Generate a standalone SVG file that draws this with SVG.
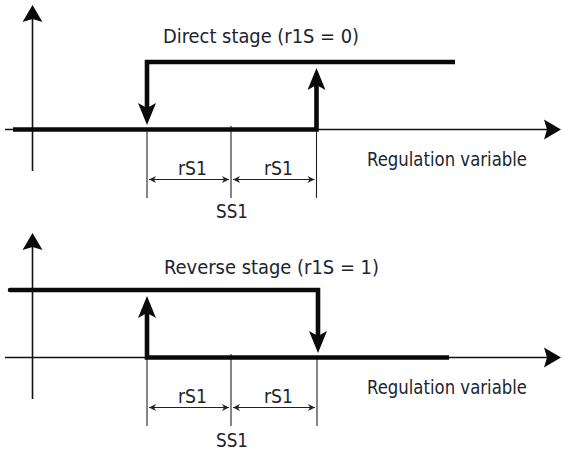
<svg xmlns="http://www.w3.org/2000/svg" width="563" height="453" viewBox="0 0 563 453">
<style>
.bg{fill:#ffffff}
.thin{fill:none;stroke:#111;stroke-width:1.6}
.dim{fill:none;stroke:#222;stroke-width:1.1}
.thick{fill:none;stroke:#0a0a0a;stroke-width:4.6;stroke-linejoin:miter}
.ax{marker-end:url(#axHead)}
.dl{marker-start:url(#dimHead);marker-end:url(#dimHead)}
.th{marker-end:url(#thickHead)}
text{font-family:"DejaVu Sans Condensed","DejaVu Sans","Liberation Sans",sans-serif;font-stretch:condensed;fill:#1b2430;font-size:19px}
.mid{text-anchor:middle}
</style>
<defs>
<marker id="axHead" markerUnits="userSpaceOnUse" orient="auto" overflow="visible" markerWidth="20" markerHeight="20" refX="0" refY="0">
<path d="M14,0 L-3,-10 L0,0 L-3,10 Z" fill="#0a0a0a"/>
</marker>
<marker id="thickHead" markerUnits="userSpaceOnUse" orient="auto" overflow="visible" markerWidth="24" markerHeight="20" refX="0" refY="0">
<path d="M17,0 L-5,-9 L0,0 L-5,9 Z" fill="#0a0a0a"/>
</marker>
<marker id="dimHead" markerUnits="userSpaceOnUse" orient="auto-start-reverse" overflow="visible" markerWidth="10" markerHeight="10" refX="0" refY="0">
<path d="M0,0 L-7,-3.5 L-5,0 L-7,3.5 Z" fill="#222"/>
</marker>
</defs>
<rect class="bg" x="0" y="0" width="563" height="453"/>

<g id="connectors">
<!-- top panel -->
<line class="thin ax" x1="32.5" y1="171" x2="32.5" y2="19"/>
<line class="thin ax" x1="5" y1="129.5" x2="547" y2="129.5"/>
<line class="dim" x1="147" y1="129" x2="147" y2="198"/>
<line class="dim" x1="231" y1="126" x2="231" y2="198"/>
<line class="dim" x1="316.5" y1="129" x2="316.5" y2="198"/>
<line class="dim dl" x1="149" y1="179.5" x2="229" y2="179.5"/>
<line class="dim dl" x1="233" y1="179.5" x2="314.5" y2="179.5"/>
<path class="thick th" d="M13,129.5 H316.5 V85"/>
<path class="thick th" d="M455,62 H147 V108"/>
<!-- bottom panel -->
<line class="thin ax" x1="32.5" y1="399" x2="32.5" y2="247"/>
<line class="thin ax" x1="5" y1="357.5" x2="547" y2="357.5"/>
<line class="dim" x1="147" y1="357" x2="147" y2="426"/>
<line class="dim" x1="231" y1="354" x2="231" y2="426"/>
<line class="dim" x1="317" y1="357" x2="317" y2="426"/>
<line class="dim dl" x1="149" y1="407.5" x2="229" y2="407.5"/>
<line class="dim dl" x1="233" y1="407.5" x2="315" y2="407.5"/>
<path class="thick th" d="M10,290 H318 V336" stroke-linecap="round"/>
<path class="thick th" d="M449,357.5 H147 V313"/>
</g>

<g id="title-direct"><text x="163" y="43" textLength="196" lengthAdjust="spacingAndGlyphs" font-size="20">Direct stage (r1S = 0)</text></g>
<g id="xlabel-top"><text x="367" y="166" textLength="160" lengthAdjust="spacingAndGlyphs">Regulation variable</text></g>
<g id="rs1-top-left"><text x="178" y="175" textLength="29" lengthAdjust="spacingAndGlyphs">rS1</text></g>
<g id="rs1-top-right"><text x="264" y="175" textLength="29" lengthAdjust="spacingAndGlyphs">rS1</text></g>
<g id="ss1-top"><text x="216" y="218" textLength="32" lengthAdjust="spacingAndGlyphs">SS1</text></g>

<g id="title-reverse"><text x="164" y="274" textLength="215" lengthAdjust="spacingAndGlyphs" font-size="20">Reverse stage (r1S = 1)</text></g>
<g id="xlabel-bottom"><text x="367" y="394" textLength="160" lengthAdjust="spacingAndGlyphs">Regulation variable</text></g>
<g id="rs1-bottom-left"><text x="178" y="403" textLength="29" lengthAdjust="spacingAndGlyphs">rS1</text></g>
<g id="rs1-bottom-right"><text x="264" y="403" textLength="29" lengthAdjust="spacingAndGlyphs">rS1</text></g>
<g id="ss1-bottom"><text x="216" y="447" textLength="32" lengthAdjust="spacingAndGlyphs">SS1</text></g>
</svg>
